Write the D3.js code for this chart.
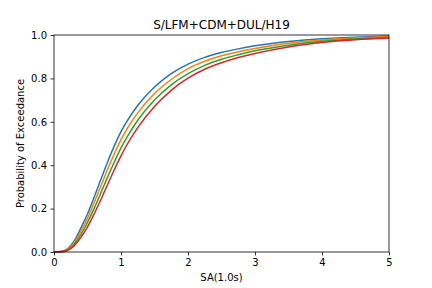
<!DOCTYPE html>
<html>
<head>
<meta charset="utf-8">
<script src="https://cdn.jsdelivr.net/npm/d3@7"></script>
<style>
  body { margin: 0; background: #fff; }
  svg { font-family: "DejaVu Sans", sans-serif; }
</style>
</head>
<body>
<svg id="chart" width="432" height="288"></svg>
<script>
// values
const sa = [0, 0.1, 0.2, 0.3, 0.4, 0.5, 0.6, 0.7, 0.8, 0.9, 1.0, 1.1, 1.25, 1.5, 1.75, 2.0, 2.25, 2.5, 2.75, 3.0, 3.5, 4.0, 4.5, 5.0];
const blue = [0, 0.002, 0.015, 0.05, 0.11, 0.175, 0.253, 0.335, 0.415, 0.489, 0.555, 0.608, 0.675, 0.760, 0.822, 0.866, 0.897, 0.919, 0.936, 0.950, 0.970, 0.983, 0.990, 0.995];
const orange = [0, 0.002, 0.012, 0.043, 0.095, 0.155, 0.228, 0.304, 0.381, 0.453, 0.518, 0.573, 0.641, 0.730, 0.795, 0.845, 0.879, 0.904, 0.923, 0.938, 0.962, 0.977, 0.986, 0.992];
const green = [0, 0.001, 0.009, 0.035, 0.080, 0.136, 0.201, 0.273, 0.345, 0.415, 0.480, 0.535, 0.607, 0.700, 0.770, 0.822, 0.860, 0.888, 0.909, 0.927, 0.953, 0.971, 0.982, 0.989];
const red = [0, 0.001, 0.007, 0.028, 0.066, 0.116, 0.176, 0.242, 0.311, 0.379, 0.443, 0.500, 0.573, 0.670, 0.745, 0.801, 0.842, 0.872, 0.896, 0.915, 0.945, 0.965, 0.978, 0.986];

const series = [
  { color: "#1f77b4", values: blue },
  { color: "#ff7f0e", values: orange },
  { color: "#2ca02c", values: green },
  { color: "#d62728", values: red }
];

const xTicks = [0, 1, 2, 3, 4, 5];
const yTicks = [0, 0.2, 0.4, 0.6, 0.8, 1.0];

const svg = d3.select("#chart");
const mLeft = 54, mRight = 389, mTop = 35, mBottom = 252;

const x = d3.scaleLinear().domain([0, 5]).range([mLeft, mRight]);
const y = d3.scaleLinear().domain([0, 1]).range([mBottom, mTop]);

const line = d3.line()
  .x((d, i) => x(sa[i]))
  .y(d => y(d))
  .curve(d3.curveMonotoneX);

const g = svg.append("g");
series.forEach(s => {
  g.append("path")
    .attr("d", line(s.values))
    .attr("fill", "none")
    .attr("stroke", s.color)
    .attr("stroke-width", 1.5);
});

const xAxis = svg.append("g")
  .attr("transform", `translate(0,${mBottom})`)
  .call(d3.axisBottom(x).tickValues(xTicks).tickFormat(d3.format("d")).tickSize(3.5).tickPadding(3.5));
const yAxis = svg.append("g")
  .attr("transform", `translate(${mLeft},0)`)
  .call(d3.axisLeft(y).tickValues(yTicks).tickFormat(d3.format(".1f")).tickSize(3.5).tickPadding(3.5));

[xAxis, yAxis].forEach(a => {
  a.select(".domain").remove();
  a.selectAll("line").attr("stroke", "#000").attr("stroke-width", 0.8);
  a.selectAll("text").attr("font-size", 10).attr("fill", "#000").attr("font-family", "DejaVu Sans");
});

// frame
svg.append("rect")
  .attr("x", mLeft).attr("y", mTop)
  .attr("width", mRight - mLeft).attr("height", mBottom - mTop)
  .attr("fill", "none").attr("stroke", "#000").attr("stroke-width", 0.8);

svg.append("text")
  .attr("x", (mLeft + mRight) / 2).attr("y", 29)
  .attr("text-anchor", "middle").attr("font-size", 12)
  .text("S/LFM+CDM+DUL/H19");

svg.append("text")
  .attr("x", (mLeft + mRight) / 2).attr("y", 281)
  .attr("text-anchor", "middle").attr("font-size", 10)
  .text("SA(1.0s)");

svg.append("text")
  .attr("transform", `translate(24,${(mTop + mBottom) / 2}) rotate(-90)`)
  .attr("text-anchor", "middle").attr("font-size", 10)
  .text("Probability of Exceedance");
</script>
</body>
</html>
